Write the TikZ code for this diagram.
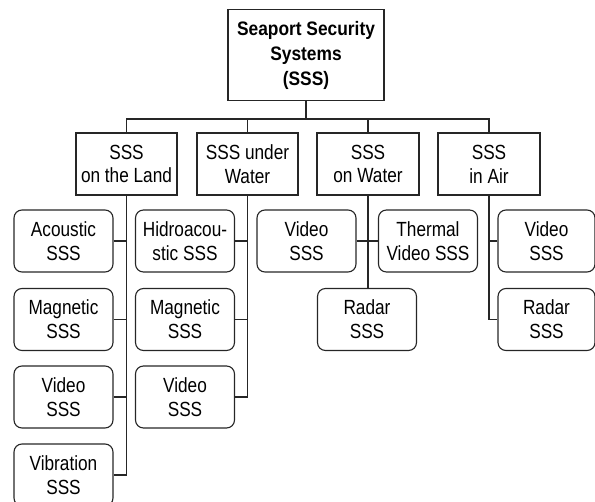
\documentclass[tikz,border=0pt]{standalone}
\usepackage{fontspec}
\setmainfont[FakeStretch=0.84]{Liberation Sans}
\newfontfamily\rootfont[FakeStretch=0.89]{Liberation Sans}
\begin{document}
\begin{tikzpicture}[x=1pt,y=-1pt,line width=1.1pt,
  base/.style={draw=black!85,inner sep=0pt,align=center,font=\fontsize{20.5}{23.8}\selectfont},
  rootbox/.style={base,minimum width=156pt,minimum height=91pt,font=\rootfont\fontsize{19.5}{25}\selectfont\bfseries},
  catbox/.style={base,minimum width=101pt,minimum height=62pt},
  leafbox/.style={base,rounded corners=8pt,minimum width=99pt,minimum height=62pt},
  link/.style={draw=black!85,line width=1.1pt}]
\useasboundingbox (0,0) rectangle (595,502);
\node[rootbox] (root) at (306,55) {Seaport Security\\Systems\\(SSS)};
\coordinate (bus) at (306,119);
\node[catbox] (land) at (126.5,164) {SSS\\on the Land};
\node[catbox] (under) at (247.5,164) {SSS under\\Water};
\node[catbox,minimum width=102pt] (onw) at (368,164) {SSS\\on Water};
\node[catbox,minimum width=102pt] (air) at (489,164) {SSS\\in Air};
% land children
\node[leafbox] (l1) at (63.5,241) {Acoustic\\SSS};
\node[leafbox] (l2) at (63.5,319.5) {Magnetic\\SSS};
\node[leafbox] (l3) at (63.5,397) {Video\\SSS};
\node[leafbox] (l4) at (63.5,475) {Vibration\\SSS};
% under water children
\node[leafbox] (u1) at (185,241) {Hidroacou-\\stic SSS};
\node[leafbox] (u2) at (185,319.5) {Magnetic\\SSS};
\node[leafbox] (u3) at (185,397) {Video\\SSS};
% on water children
\node[leafbox] (w1) at (306.5,241) {Video\\SSS};
\node[leafbox] (w2) at (428,241) {Thermal\\Video SSS};
\node[leafbox] (w3) at (367,319.5) {Radar\\SSS};
% air children
\node[leafbox,minimum width=97pt] (a1) at (546.5,241) {Video\\SSS};
\node[leafbox,minimum width=97pt] (a2) at (546.5,319.5) {Radar\\SSS};
% connectors
\draw[link] (root.south) -- (bus);
\draw[link] (land.north) |- (bus) -| (air.north);
\draw[link] (under.north) -- (under.north |- bus);
\draw[link] (onw.north) -- (onw.north |- bus);
\draw[link] (land.south) |- (l4.east);
\draw[link] (l1.east) -- (l1.east -| land.south);
\draw[link] (l2.east) -- (l2.east -| land.south);
\draw[link] (l3.east) -- (l3.east -| land.south);
\draw[link] (under.south) |- (u3.east);
\draw[link] (u1.east) -- (u1.east -| under.south);
\draw[link] (u2.east) -- (u2.east -| under.south);
\draw[link] (onw.south) -- (onw.south |- w3.north);
\draw[link] (w1.east) -- (w2.west);
\draw[link] (air.south) |- (a2.west);
\draw[link] (a1.west) -- (a1.west -| air.south);
\end{tikzpicture}
\end{document}
